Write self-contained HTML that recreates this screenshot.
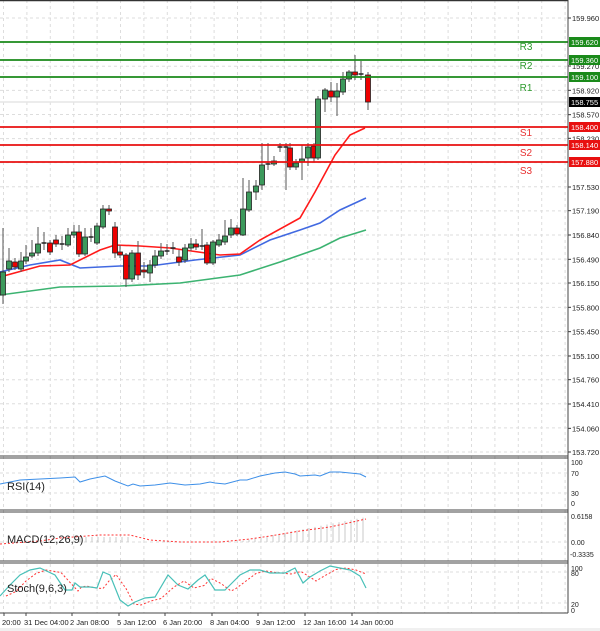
<!DOCTYPE html>
<html><head><meta charset="utf-8"><style>
body{margin:0;background:#fff;}
svg{display:block;font-family:"Liberation Sans",sans-serif;}
</style></head><body>
<svg id="c" width="600" height="631" xmlns="http://www.w3.org/2000/svg"></svg>
<script>
const s=document.getElementById('c');let h='';
function L(x1,y1,x2,y2,c,w,d){h+=`<line x1="${x1}" y1="${y1}" x2="${x2}" y2="${y2}" stroke="${c}" stroke-width="${w||1}" ${d?`stroke-dasharray="${d}"`:''}/>`;}
function T(x,y,t,sz,c,a){h+=`<text x="${x}" y="${y}" font-size="${sz}" fill="${c||'#000'}" ${a?`text-anchor="${a}"`:''}>${t}</text>`;}
function P(pts,c,w,d){h+=`<polyline fill="none" points="${pts.map(p=>p.join(',')).join(' ')}" stroke="${c}" stroke-width="${w||1}" ${d?`stroke-dasharray="${d}"`:''}/>`;}
// grid vertical
for(let x=3.5;x<568;x+=23.4){L(x,0,x,613,'#ddd',1,'3,3');}
// horizontal grid main
const Y=p=>18+(159.96-p)*69.55;
const labs=[159.960,159.270,158.920,158.570,158.230,157.530,157.190,156.840,156.490,156.150,155.800,155.450,155.100,154.760,154.410,154.060,153.720];
for(let k=0;k<19;k++){let p=159.96-k*0.3467;L(0,Y(p),568,Y(p),'#ddd',1,'3,3');}
labs.forEach(p=>{T(572,Y(p)+3,p.toFixed(3),7.5,'#222');L(568,Y(p),571,Y(p),'#333');});
L(0,102,568,102,'#e6e6e6',1.5);
// sub grids
[473,493].forEach(y=>L(0,y,568,y,'#ddd',1,'3,3'));
[542].forEach(y=>L(0,y,568,y,'#ddd',1,'3,3'));
[572,603].forEach(y=>L(0,y,568,y,'#ddd',1,'3,3'));
// MAs
P([[0,295],[60,287],[120,286],[180,283],[210,279],[240,275],[280,262],[320,248],[340,238],[366,230]],'#3cb371',1.6);
P([[0,272],[30,265],[60,260],[80,268],[120,266],[150,266],[195,260],[240,255],[270,240],[300,230],[320,223],[340,210],[366,198]],'#4169e1',1.6);
P([[0,277],[40,266],[70,265],[100,250],[115,245],[140,246],[170,248],[220,255],[240,254],[260,240],[300,218],[315,192],[335,155],[350,135],[365,128]],'#ff1a1a',1.6);
// candles: x, open, close, high, low (pixels)
const C=[[3,295,272,228,304],[9,269,261,248,272],[15,262,267,258,270],[21,269,261,252,272],[26,261,257,245,264],[32,256,253,240,258],[38,253,244,227,256],[44,244,243,232,250],[50,243,252,240,255],[56,240,244,235,247],[62,244,245,236,250],[68,245,235,228,247],[74,235,232,225,238],[79,232,254,225,257],[85,254,237,228,256],[91,237,237,228,242],[97,243,226,223,245],[103,227,209,205,229],[109,209,211,205,215],[115,227,253,222,258],[120,252,255,245,258],[126,255,279,253,287],[132,279,253,250,282],[138,253,275,241,280],[144,270,272,262,278],[150,273,265,260,282],[155,265,256,250,268],[161,256,251,243,259],[167,251,251,244,255],[173,248,248,242,254],[179,257,262,250,266],[185,260,248,244,263],[191,248,244,238,251],[196,244,247,239,250],[202,246,246,229,250],[207,245,263,242,265],[213,263,242,240,265],[219,245,240,234,247],[225,242,236,220,245],[231,235,228,219,238],[237,228,234,225,236],[243,235,209,178,236],[249,210,192,180,212],[256,192,186,180,200],[262,185,165,143,190],[268,164,164,143,170],[274,164,161,156,166],[280,147,147,143,152],[286,147,147,143,190],[290,148,167,143,170],[296,167,163,159,170],[302,162,159,145,180],[308,158,147,143,166],[314,146,158,143,162],[318,158,99,96,160],[325,99,90,88,112],[331,91,97,82,102],[337,97,91,83,116],[343,92,79,72,95],[349,79,72,70,82],[355,72,75,55,80],[361,74,74,61,80],[368,75,102,72,110]];
C.forEach(([x,o,c,hi,lo])=>{L(x,hi,x,lo,'#555',1);let t=Math.min(o,c),b=Math.max(o,c);if(b-t<1.5){L(x-2.5,t,x+2.5,t,'#222',1.5);}else{h+=`<rect x="${x-2.5}" y="${t}" width="5" height="${b-t}" fill="${c<o?'#3c9a5c':'#e00'}" stroke="#222" stroke-width="0.8"/>`;}});
// levels
[[42,'#1a8a1a','159.620','R3',50],[60,'#1a8a1a','159.360','R2',69],[77,'#1a8a1a','159.100','R1',91],[127,'#e81010','158.400','S1',136],[145,'#e81010','158.140','S2',156],[162,'#e81010','157.880','S3',174]].forEach(([y,c,v,n,ly])=>{L(0,y,568,y,c,1.8);h+=`<rect x="569" y="${y-5}" width="31" height="10" fill="${c}"/>`;T(571,y+3,v,7.5,'#fff');T(526,ly,n,10,c==='#1a8a1a'?'#2e9b2e':'#e83030','middle');});
h+=`<rect x="569" y="97" width="31" height="10" fill="#000"/>`;T(571,105,'158.755',7.5,'#fff');
// panels borders
L(0,0.5,568,0.5,'#333',1.5);
[456,510,561].forEach(y=>{L(0,y,568,y,'#444',1);L(0,y+2,568,y+2,'#444',1);});
L(0,613,568,613,'#444',1);
L(568,0,568,613,'#444',1);
// RSI
P([[0,484],[20,480],[40,479],[60,478],[75,477],[80,482],[90,479],[100,477],[105,476],[115,481],[128,486],[133,484],[140,486],[155,485],[170,483],[185,485],[200,484],[210,482],[215,483],[225,484],[240,480],[247,480],[260,476],[275,473],[285,472],[295,474],[300,476],[315,475],[320,476],[330,472],[340,472],[350,473],[360,474],[366,477]],'#3d8fe8',1);
T(7,490,'RSI(14)',11,'#222');
[[100,465],[70,476],[30,496],[0,506]].forEach(([v,y])=>T(571,y,v,7,'#222'));
// MACD hist
for(let x=80;x<=132;x+=6)L(x,542,x,537,'#c8c8c8',1);
for(let x=237;x<=366;x+=6){let hh=Math.max(0,(x-237)/129*25);L(x,542,x,542-hh,'#c8c8c8',1);}
P([[0,544],[40,541],[60,538],[100,535],[130,535],[150,540],[180,542],[220,542],[250,539],[270,536],[300,531],[330,527],[366,519]],'#f33',1,'2,2');
T(7,543,'MACD(12,26,9)',11,'#222');
T(571,519,'0.6158',7,'#222');T(571,545,'0.00',7,'#222');T(570,557,'-0.3335',7,'#222');
// Stoch
const st=[[0,596],[10,585],[20,575],[30,570],[40,568],[55,575],[65,590],[72,590],[75,583],[80,587],[90,587],[97,588],[103,572],[110,575],[120,600],[128,606],[135,602],[145,598],[155,597],[168,575],[178,585],[188,589],[198,580],[205,575],[215,590],[225,590],[230,585],[240,575],[250,570],[260,570],[270,573],[285,573],[295,568],[303,583],[310,577],[320,571],[330,566],[340,568],[350,570],[360,576],[366,588]];
P(st.map(([x,y],i)=>[x+6,i?(y+st[i-1][1])/2+1:y]).filter(p=>p[0]<=366),'#f33',1,'2,2');
P(st,'#48c0b8',1.2);
T(7,592,'Stoch(9,6,3)',11,'#222');
T(571,571,'100',7,'#222');T(571,576,'80',7,'#222');T(571,607,'20',7,'#222');T(571,613,'0',7,'#222');
// dates
[[2,'20:00'],[24,'31 Dec 04:00'],[70,'2 Jan 08:00'],[117,'5 Jan 12:00'],[163,'6 Jan 20:00'],[210,'8 Jan 04:00'],[256,'9 Jan 12:00'],[303,'12 Jan 16:00'],[350,'14 Jan 00:00']].forEach(([x,t])=>{T(x,625,t,7.5,'#222');L(x+2,613,x+2,616,'#444');});
h+=`<rect x="0" y="628" width="600" height="3" fill="#f0f0f0"/>`;
s.innerHTML=h;
</script>
</body></html>
